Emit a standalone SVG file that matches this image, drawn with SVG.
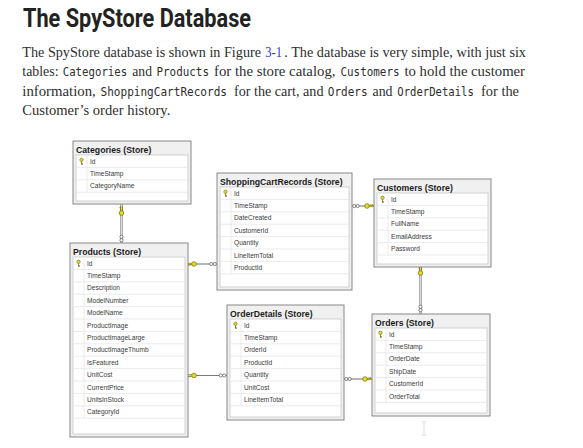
<svg xmlns="http://www.w3.org/2000/svg" xmlns:xlink="http://www.w3.org/1999/xlink" width="583" height="448" viewBox="0 0 583 448">
<style>
.h{font-family:Roboto,"Liberation Sans",sans-serif;font-weight:700;font-size:25px;fill:#222}
.p{font-family:"Liberation Serif",serif;font-size:14.5px;fill:#2e2e2e}
.m{font-family:"DejaVu Sans Mono","Liberation Mono",monospace;font-size:11.5px;fill:#2e2e2e}
.lk{fill:#3434d8}
.frame{fill:#f0f0f0;stroke:#888;stroke-width:1}
.inner{fill:#fff;stroke:#c9c9c9;stroke-width:0.8}
.sep{fill:none;stroke:#e6e6e6;stroke-width:0.8}
.t{font-family:"Liberation Sans",Arial,sans-serif;font-weight:700;font-size:8.7px;fill:#1a1a1a}
.f{font-family:"Liberation Sans",Arial,sans-serif;font-size:6.6px;fill:#3a3a3a}
.conn{fill:none;stroke:#7a7a7a;stroke-width:1.1}
.vconn{fill:none;stroke:#8a8a8a;stroke-width:2.4}
.vgap{fill:none;stroke:#f2f2f2;stroke-width:0.8}
</style>
<defs>
<g id="pk"><circle cx="0" cy="-1.4" r="1.7" fill="#e6dc2c" stroke="#6d6a10" stroke-width="0.6"/><path d="M0 0.2V3.4M0 2.3H1.2M0 3.3H1.2" fill="none" stroke="#6d6a10" stroke-width="0.8"/></g>
<g id="fk"><path d="M-6.5 0H-2" stroke="#6d6a10" stroke-width="2.2"/><path d="M-6.5 0H-2" stroke="#e6dc2c" stroke-width="1.1"/><path d="M-5.5 0.5v1.5M-4 0.5v1.2" stroke="#6d6a10" stroke-width="0.7"/><circle r="2.3" fill="#e6dc2c" stroke="#6d6a10" stroke-width="0.7"/></g>
<g id="inf"><circle cx="-1.7" cy="0" r="1.6" fill="#fff" stroke="#555" stroke-width="0.7"/><circle cx="1.7" cy="0" r="1.6" fill="#fff" stroke="#555" stroke-width="0.7"/></g>
</defs>
<rect width="583" height="448" fill="#fff"/>
<g id="intro">
<text class="h" x="23" y="27" textLength="228" lengthAdjust="spacingAndGlyphs">The SpyStore Database</text>
<text class="p" x="22.3" y="56.5" textLength="238.7" lengthAdjust="spacingAndGlyphs">The SpyStore database is shown in Figure</text>
<text class="p lk" x="265.2" y="56.5" textLength="16.8" lengthAdjust="spacingAndGlyphs">3-1</text>
<text class="p" x="284.3" y="56.5" textLength="241.7" lengthAdjust="spacingAndGlyphs">. The database is very simple, with just six</text>
<text class="p" x="22.3" y="76" textLength="36.2" lengthAdjust="spacingAndGlyphs">tables:</text>
<text class="m" x="62.7" y="76" textLength="64.5" lengthAdjust="spacingAndGlyphs">Categories</text>
<text class="p" x="132.3" y="76" textLength="19.7" lengthAdjust="spacingAndGlyphs">and</text>
<text class="m" x="156.5" y="76" textLength="52.5" lengthAdjust="spacingAndGlyphs">Products</text>
<text class="p" x="214" y="76" textLength="121.5" lengthAdjust="spacingAndGlyphs">for the store catalog,</text>
<text class="m" x="340.5" y="76" textLength="59" lengthAdjust="spacingAndGlyphs">Customers</text>
<text class="p" x="404.5" y="76" textLength="120.5" lengthAdjust="spacingAndGlyphs">to hold the customer</text>
<text class="p" x="22.3" y="95.5" textLength="73.5" lengthAdjust="spacingAndGlyphs">information,</text>
<text class="m" x="100.5" y="95.5" textLength="126.5" lengthAdjust="spacingAndGlyphs">ShoppingCartRecords</text>
<text class="p" x="234" y="95.5" textLength="89.5" lengthAdjust="spacingAndGlyphs">for the cart, and</text>
<text class="m" x="327.8" y="95.5" textLength="39.7" lengthAdjust="spacingAndGlyphs">Orders</text>
<text class="p" x="372.5" y="95.5" textLength="20" lengthAdjust="spacingAndGlyphs">and</text>
<text class="m" x="397.3" y="95.5" textLength="76.5" lengthAdjust="spacingAndGlyphs">OrderDetails</text>
<text class="p" x="481" y="95.5" textLength="38" lengthAdjust="spacingAndGlyphs">for the</text>
<text class="p" x="22.3" y="115" textLength="148" lengthAdjust="spacingAndGlyphs">Customer’s order history.</text>
</g>
<g id="connectors">
<path class="vconn" d="M121.5 204V243"/>
<path class="vgap" d="M121.5 204V243"/>
<use xlink:href="#fk" transform="translate(121.5 213) rotate(90)"/>
<use xlink:href="#inf" transform="translate(121.5 238.5) rotate(90)"/>
<path class="conn" d="M188 264H217"/>
<use xlink:href="#fk" transform="translate(194 264)"/>
<use xlink:href="#inf" transform="translate(213 264)"/>
<path class="conn" d="M352 206H374"/>
<use xlink:href="#inf" transform="translate(356 206)"/>
<use xlink:href="#fk" transform="translate(367 206) rotate(180)"/>
<path class="conn" d="M188 375.5H227"/>
<use xlink:href="#fk" transform="translate(194 375.5)"/>
<use xlink:href="#inf" transform="translate(222.5 375.5)"/>
<path class="conn" d="M344 379H372"/>
<use xlink:href="#inf" transform="translate(348 379)"/>
<use xlink:href="#fk" transform="translate(365 379) rotate(180)"/>
<path class="vconn" d="M420.5 267V314"/>
<path class="vgap" d="M420.5 267V314"/>
<use xlink:href="#fk" transform="translate(420.5 273) rotate(90)"/>
<use xlink:href="#inf" transform="translate(420.5 308.5) rotate(90)"/>
</g>
<g id="categories">
<rect class="frame" x="73" y="141" width="118" height="63"/>
<rect class="inner" x="76" y="155" width="112" height="46"/>
<path class="sep" d="M76 167.4H188M76 179.8H188M76 192.2H188M87 155V192.2"/>
<text class="t" x="76" y="152.5">Categories (Store)</text>
<use xlink:href="#pk" x="81.5" y="161.2"/>
<text class="f" x="90" y="163.5">Id</text>
<text class="f" x="90" y="175.9">TimeStamp</text>
<text class="f" x="90" y="188.3">CategoryName</text>
</g>
<g id="products">
<rect class="frame" x="70" y="243" width="118" height="194"/>
<rect class="inner" x="73" y="257" width="112" height="177"/>
<path class="sep" d="M73 269.4H185M73 281.8H185M73 294.2H185M73 306.6H185M73 319H185M73 331.4H185M73 343.8H185M73 356.2H185M73 368.6H185M73 381H185M73 393.4H185M73 405.8H185M73 418.2H185M84 257V418.2"/>
<text class="t" x="73" y="254.5">Products (Store)</text>
<use xlink:href="#pk" x="78.5" y="263.2"/>
<text class="f" x="87" y="265.5">Id</text>
<text class="f" x="87" y="277.9">TimeStamp</text>
<text class="f" x="87" y="290.3">Description</text>
<text class="f" x="87" y="302.7">ModelNumber</text>
<text class="f" x="87" y="315.1">ModelName</text>
<text class="f" x="87" y="327.5">ProductImage</text>
<text class="f" x="87" y="339.9">ProductImageLarge</text>
<text class="f" x="87" y="352.3">ProductImageThumb</text>
<text class="f" x="87" y="364.7">IsFeatured</text>
<text class="f" x="87" y="377.1">UnitCost</text>
<text class="f" x="87" y="389.5">CurrentPrice</text>
<text class="f" x="87" y="401.9">UnitsInStock</text>
<text class="f" x="87" y="414.3">CategoryId</text>
</g>
<g id="shoppingcartrecords">
<rect class="frame" x="217" y="173" width="135" height="117"/>
<rect class="inner" x="220" y="187" width="129" height="100"/>
<path class="sep" d="M220 199.4H349M220 211.8H349M220 224.2H349M220 236.6H349M220 249H349M220 261.4H349M220 273.8H349M231 187V273.8"/>
<text class="t" x="220" y="184.5">ShoppingCartRecords (Store)</text>
<use xlink:href="#pk" x="225.5" y="193.2"/>
<text class="f" x="234" y="195.5">Id</text>
<text class="f" x="234" y="207.9">TimeStamp</text>
<text class="f" x="234" y="220.3">DateCreated</text>
<text class="f" x="234" y="232.7">CustomerId</text>
<text class="f" x="234" y="245.1">Quantity</text>
<text class="f" x="234" y="257.5">LineItemTotal</text>
<text class="f" x="234" y="269.9">ProductId</text>
</g>
<g id="customers">
<rect class="frame" x="374" y="179" width="117" height="88"/>
<rect class="inner" x="377" y="193" width="111" height="71"/>
<path class="sep" d="M377 205.4H488M377 217.8H488M377 230.2H488M377 242.6H488M377 255H488M388 193V255"/>
<text class="t" x="377" y="190.5">Customers (Store)</text>
<use xlink:href="#pk" x="382.5" y="199.2"/>
<text class="f" x="391" y="201.5">Id</text>
<text class="f" x="391" y="213.9">TimeStamp</text>
<text class="f" x="391" y="226.3">FullName</text>
<text class="f" x="391" y="238.7">EmailAddress</text>
<text class="f" x="391" y="251.1">Password</text>
</g>
<g id="orderdetails">
<rect class="frame" x="227" y="305" width="117" height="115"/>
<rect class="inner" x="230" y="319" width="111" height="98"/>
<path class="sep" d="M230 331.4H341M230 343.8H341M230 356.2H341M230 368.6H341M230 381H341M230 393.4H341M230 405.8H341M241 319V405.8"/>
<text class="t" x="230" y="316.5">OrderDetails (Store)</text>
<use xlink:href="#pk" x="235.5" y="325.2"/>
<text class="f" x="244" y="327.5">Id</text>
<text class="f" x="244" y="339.9">TimeStamp</text>
<text class="f" x="244" y="352.3">OrderId</text>
<text class="f" x="244" y="364.7">ProductId</text>
<text class="f" x="244" y="377.1">Quantity</text>
<text class="f" x="244" y="389.5">UnitCost</text>
<text class="f" x="244" y="401.9">LineItemTotal</text>
</g>
<g id="orders">
<rect class="frame" x="372" y="314" width="118" height="102"/>
<rect class="inner" x="375" y="328" width="112" height="85"/>
<path class="sep" d="M375 340.4H487M375 352.8H487M375 365.2H487M375 377.6H487M375 390H487M375 402.4H487M386 328V402.4"/>
<text class="t" x="375" y="325.5">Orders (Store)</text>
<use xlink:href="#pk" x="380.5" y="334.2"/>
<text class="f" x="389" y="336.5">Id</text>
<text class="f" x="389" y="348.9">TimeStamp</text>
<text class="f" x="389" y="361.3">OrderDate</text>
<text class="f" x="389" y="373.7">ShipDate</text>
<text class="f" x="389" y="386.1">CustomerId</text>
<text class="f" x="389" y="398.5">OrderTotal</text>
</g>
<path d="M421.5 422H426.5M424 422V435M421.5 435H426.5" fill="none" stroke="#d4d4d4" stroke-width="0.8"/>
</svg>
